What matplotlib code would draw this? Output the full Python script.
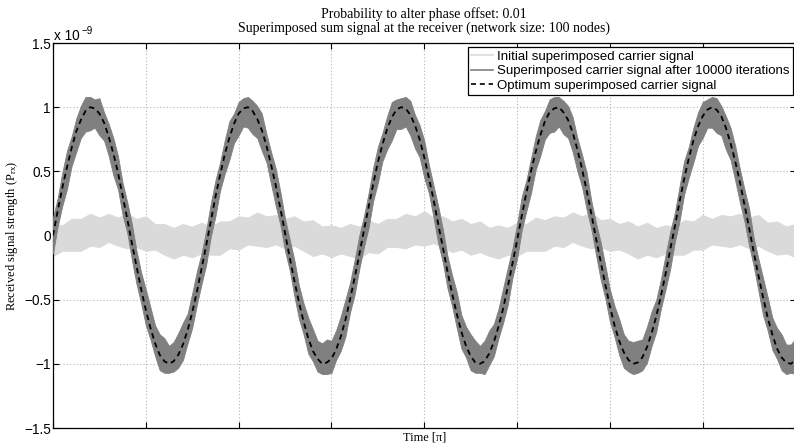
import numpy as np
import matplotlib
matplotlib.use("Agg")
import matplotlib.pyplot as plt
from matplotlib.lines import Line2D

# ---- data (signal values in units of 1e-9) ----
# fine time samples (grid units, 20 per grid interval)
time_fine = np.round(np.arange(0, 161) * 0.05, 3)
# coarse time samples for the initial signal band (10 per grid interval)
time_coarse = np.round(np.arange(0, 81) * 0.1, 2)

optimum = [0.00, 0.19, 0.37, 0.53, 0.68, 0.81, 0.90, 0.97, 1.00, 0.99,
           0.95, 0.88, 0.77, 0.64, 0.49, 0.31, 0.13, -0.06, -0.24, -0.42,
           -0.58, -0.72, -0.84, -0.93, -0.98, -1.00, -0.98, -0.93, -0.85, -0.74,
           -0.60, -0.44, -0.26, -0.08, 0.11, 0.30, 0.47, 0.63, 0.76, 0.87,
           0.95, 0.99, 1.00, 0.97, 0.91, 0.82, 0.70, 0.55, 0.39, 0.21,
           0.02, -0.17, -0.35, -0.52, -0.67, -0.80, -0.90, -0.96, -1.00, -0.99,
           -0.96, -0.89, -0.79, -0.66, -0.50, -0.33, -0.15, 0.04, 0.22, 0.40,
           0.57, 0.71, 0.83, 0.92, 0.98, 1.00, 0.99, 0.94, 0.86, 0.75,
           0.61, 0.45, 0.28, 0.09, -0.09, -0.28, -0.45, -0.61, -0.75, -0.86,
           -0.94, -0.99, -1.00, -0.98, -0.92, -0.83, -0.71, -0.57, -0.40, -0.22,
           -0.04, 0.15, 0.33, 0.50, 0.65, 0.78, 0.89, 0.96, 0.99, 1.00,
           0.96, 0.90, 0.80, 0.67, 0.52, 0.35, 0.17, -0.02, -0.20, -0.38,
           -0.55, -0.70, -0.82, -0.91, -0.97, -1.00, -0.99, -0.95, -0.87, -0.76,
           -0.63, -0.47, -0.30, -0.11, 0.07, 0.26, 0.44, 0.60, 0.74, 0.85,
           0.93, 0.98, 1.00, 0.98, 0.93, 0.84, 0.72, 0.58, 0.42, 0.24,
           0.06, -0.13, -0.31, -0.48, -0.64, -0.77, -0.88, -0.95, -0.99, -1.00,
           -0.97]

after_hi = [0.14, 0.29, 0.49, 0.66, 0.77, 0.91, 1.01, 1.08, 1.08, 1.06,
            1.07, 0.96, 0.87, 0.76, 0.62, 0.41, 0.26, 0.09, -0.12, -0.29,
            -0.42, -0.56, -0.70, -0.77, -0.80, -0.86, -0.83, -0.76, -0.68, -0.61,
            -0.45, -0.28, -0.14, 0.04, 0.25, 0.43, 0.57, 0.74, 0.89, 0.95,
            1.04, 1.07, 1.08, 1.05, 1.01, 0.95, 0.79, 0.65, 0.52, 0.34,
            0.13, -0.03, -0.19, -0.39, -0.53, -0.64, -0.73, -0.82, -0.84, -0.81,
            -0.82, -0.74, -0.63, -0.50, -0.37, -0.19, 0.00, 0.15, 0.33, 0.53,
            0.69, 0.80, 0.93, 1.04, 1.06, 1.07, 1.08, 1.05, 0.94, 0.86,
            0.74, 0.55, 0.39, 0.23, 0.05, -0.16, -0.31, -0.44, -0.62, -0.71,
            -0.77, -0.82, -0.86, -0.82, -0.74, -0.69, -0.57, -0.41, -0.25, -0.10,
            0.09, 0.30, 0.43, 0.60, 0.77, 0.90, 0.97, 1.06, 1.08, 1.08,
            1.05, 1.01, 0.92, 0.76, 0.63, 0.49, 0.27, 0.10, -0.05, -0.23,
            -0.42, -0.55, -0.65, -0.77, -0.82, -0.83, -0.82, -0.81, -0.71, -0.59,
            -0.50, -0.34, -0.15, 0.03, 0.18, 0.38, 0.58, 0.69, 0.84, 0.96,
            1.04, 1.06, 1.08, 1.07, 1.01, 0.93, 0.84, 0.70, 0.52, 0.36,
            0.21, -0.02, -0.18, -0.33, -0.48, -0.64, -0.72, -0.77, -0.85, -0.85,
            -0.80]

after_lo = [-0.14, 0.07, 0.23, 0.36, 0.54, 0.65, 0.76, 0.81, 0.82, 0.84,
            0.78, 0.74, 0.62, 0.47, 0.36, 0.16, 0.02, -0.19, -0.38, -0.53,
            -0.70, -0.81, -0.94, -1.05, -1.07, -1.07, -1.06, -1.03, -0.97, -0.84,
            -0.72, -0.54, -0.38, -0.23, -0.01, 0.15, 0.35, 0.48, 0.59, 0.72,
            0.78, 0.85, 0.84, 0.79, 0.76, 0.66, 0.57, 0.40, 0.23, 0.08,
            -0.12, -0.27, -0.47, -0.65, -0.77, -0.92, -0.98, -1.06, -1.08, -1.08,
            -1.07, -0.97, -0.90, -0.79, -0.60, -0.46, -0.26, -0.09, 0.06, 0.27,
            0.41, 0.58, 0.67, 0.74, 0.83, 0.83, 0.85, 0.78, 0.68, 0.61,
            0.45, 0.33, 0.14, -0.06, -0.21, -0.41, -0.55, -0.72, -0.88, -0.95,
            -1.05, -1.07, -1.07, -1.08, -1.01, -0.94, -0.80, -0.68, -0.54, -0.33,
            -0.18, 0.04, 0.19, 0.33, 0.51, 0.62, 0.75, 0.80, 0.81, 0.85,
            0.79, 0.76, 0.65, 0.50, 0.38, 0.20, 0.05, -0.15, -0.34, -0.49,
            -0.67, -0.79, -0.93, -1.03, -1.06, -1.08, -1.07, -1.05, -0.99, -0.86,
            -0.75, -0.57, -0.42, -0.26, -0.05, 0.11, 0.32, 0.45, 0.57, 0.70,
            0.76, 0.84, 0.84, 0.80, 0.78, 0.67, 0.59, 0.43, 0.26, 0.11,
            -0.08, -0.24, -0.43, -0.62, -0.74, -0.89, -0.96, -1.05, -1.08, -1.07,
            -1.08]

initial_hi = [0.09, 0.08, 0.13, 0.13, 0.17, 0.14, 0.17, 0.14, 0.17, 0.13,
              0.15, 0.09, 0.09, 0.06, 0.09, 0.07, 0.10, 0.07, 0.11, 0.11,
              0.15, 0.14, 0.18, 0.15, 0.16, 0.13, 0.15, 0.11, 0.12, 0.07,
              0.08, 0.06, 0.09, 0.07, 0.12, 0.09, 0.13, 0.13, 0.17, 0.15,
              0.19, 0.14, 0.15, 0.11, 0.13, 0.09, 0.11, 0.06, 0.08, 0.06,
              0.10, 0.09, 0.14, 0.12, 0.15, 0.14, 0.18, 0.15, 0.18, 0.12,
              0.13, 0.09, 0.11, 0.07, 0.10, 0.06, 0.08, 0.07, 0.12, 0.11,
              0.16, 0.13, 0.16, 0.15, 0.17, 0.14, 0.16, 0.10, 0.11, 0.07,
              0.09]

initial_lo = [-0.16, -0.12, -0.12, -0.12, -0.08, -0.09, -0.05, -0.08, -0.10, -0.09,
              -0.12, -0.11, -0.15, -0.18, -0.15, -0.17, -0.14, -0.15, -0.15, -0.10,
              -0.11, -0.07, -0.08, -0.09, -0.07, -0.10, -0.08, -0.12, -0.16, -0.14,
              -0.17, -0.14, -0.16, -0.18, -0.13, -0.14, -0.09, -0.09, -0.10, -0.07,
              -0.08, -0.06, -0.09, -0.13, -0.11, -0.15, -0.13, -0.16, -0.18, -0.15,
              -0.16, -0.12, -0.12, -0.12, -0.08, -0.09, -0.05, -0.08, -0.10, -0.09,
              -0.12, -0.11, -0.14, -0.18, -0.15, -0.17, -0.14, -0.15, -0.15, -0.11,
              -0.11, -0.07, -0.08, -0.09, -0.07, -0.10, -0.08, -0.12, -0.15, -0.14,
              -0.17]

ytick_vals = [-1.5, -1, -0.5, 0, 0.5, 1, 1.5]
ytick_labels = ["\u22121.5", "\u22121", "\u22120.5", "0", "0.5", "1", "1.5"]
legend_labels = ["Initial superimposed carrier signal",
                 "Superimposed carrier signal after 10000 iterations",
                 "Optimum superimposed carrier signal"]
title_text = ("Probability to alter phase offset: 0.01\n"
              "Superimposed sum signal at the receiver (network size: 100 nodes)")

# ---- styling ----
plt.rcParams["mathtext.fontset"] = "custom"
plt.rcParams["mathtext.rm"] = "Liberation Serif"
plt.rcParams["mathtext.it"] = "Liberation Serif:italic"
serif = "Liberation Serif"
sans = "Liberation Sans"
fs_sans = 9.8
fs_legend = 9.5

c_init = "#dadada"
c_after = "#808080"

fig = plt.figure(figsize=(7.94, 4.44), dpi=100)
ax = fig.add_axes([53 / 794, 1 - 428 / 444, 742.5 / 794, 385 / 444])

ax.fill_between(time_coarse, initial_lo, initial_hi, color=c_init, lw=0.6,
                edgecolor=c_init, zorder=2)
ax.fill_between(time_fine, after_lo, after_hi, color=c_after, lw=0.6,
                edgecolor=c_after, zorder=3)
ax.plot(time_fine, optimum, color="black", lw=1.3, ls=(0, (3, 2.3)), zorder=4)

ax.set_xlim(0, 8)
ax.set_ylim(-1.5, 1.5)
ax.set_xticks(range(0, 9))
ax.set_xticklabels([])
ax.set_yticks(ytick_vals)
ax.set_yticklabels(ytick_labels, fontfamily=sans, fontsize=fs_sans)
ax.tick_params(direction="in", top=True, right=True, length=4, width=0.8, pad=1.5)
ax.grid(True, linestyle=(0, (1, 2)), color="#b4b4b4", linewidth=0.8)
ax.set_axisbelow(True)
for s in ax.spines.values():
    s.set_linewidth(0.9)

fig.text(54 / 794, 1 - 40 / 444, "x 10", fontfamily=sans, fontsize=fs_sans,
         ha="left", va="baseline")
fig.text(81 / 794, 1 - 34 / 444, "\u22129", fontfamily=sans, fontsize=7,
         ha="left", va="baseline")

ax.set_title(title_text, fontfamily=serif, fontsize=10, linespacing=1.1, pad=8)
ax.set_xlabel("Time [\u03c0]", fontfamily=serif, fontsize=8.8, labelpad=1)
ax.set_ylabel(r"Received signal strength (P$_{\rm rx}$)", fontfamily=serif,
              fontsize=9, labelpad=3)

handles = [Line2D([], [], color=c_init, lw=1.2),
           Line2D([], [], color=c_after, lw=1.2),
           Line2D([], [], color="black", lw=1.2, ls=(0, (3, 2.3)))]
leg = ax.legend(handles, legend_labels, loc="upper right",
                bbox_to_anchor=(793 / 794, 1 - 47 / 444), bbox_transform=fig.transFigure,
                borderaxespad=0, fancybox=False, framealpha=1, edgecolor="black",
                prop={"family": sans, "size": fs_legend}, handlelength=1.7,
                handletextpad=0.3, borderpad=0.25, labelspacing=0.18)
leg.get_frame().set_linewidth(0.9)
leg.set_zorder(10)

fig.savefig("out.png", dpi=100)
